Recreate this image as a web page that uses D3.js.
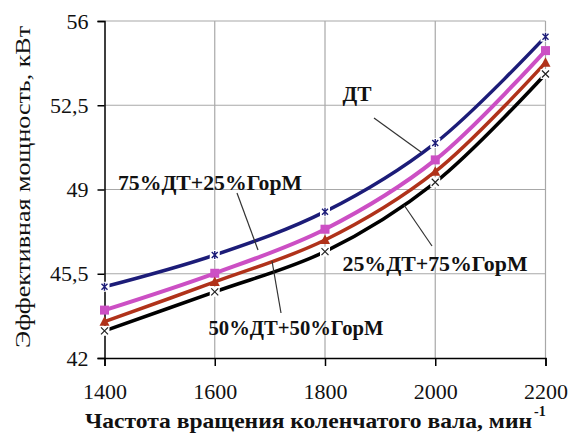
<!DOCTYPE html>
<html><head><meta charset="utf-8"><script src="https://d3js.org/d3.v7.min.js"></script></head>
<body style="margin:0">
<svg width="569" height="436"></svg>
<script>
// rpm values and tick labels
var rpm = [1400, 1600, 1800, 2000, 2200];
var yTicks = [42, 45.5, 49, 52.5, 56];

// effective power, kW, per fuel mix
var dt   = [44.96, 46.28, 48.08, 50.93, 55.35];
var dt75 = [43.99, 45.52, 47.35, 50.23, 54.77];
var dt50 = [43.51, 45.16, 46.90, 49.74, 54.27];
var dt25 = [43.13, 44.75, 46.42, 49.30, 53.80];

var seriesNames = ['ДТ', '75%ДТ+25%ГорМ', '50%ДТ+50%ГорМ', '25%ДТ+75%ГорМ'];
var seriesValues = [dt, dt75, dt50, dt25];

var colors = ['#1c1c78', '#cc4fc4', '#b0321a', '#000000'];
var markers = ['star', 'square', 'triangle', 'cross'];
var widths = [3.5, 4, 3.5, 3.5];

var serif = 'Liberation Serif';

var svg = d3.select('svg');
var x = d3.scaleLinear().domain([1400, 2200]).range([104.5, 545.5]);
var y = d3.scaleLinear().domain([42, 56]).range([358, 21]);

// grid
svg.append('g').selectAll('line').data(yTicks.slice(1)).enter().append('line')
  .attr('x1', x(1400)).attr('x2', x(2200))
  .attr('y1', function(d) { return y(d); }).attr('y2', function(d) { return y(d); })
  .attr('stroke', '#a8a8a8').attr('stroke-width', 1.2);
svg.append('g').selectAll('line').data(rpm.slice(1)).enter().append('line')
  .attr('x1', function(d) { return x(d); }).attr('x2', function(d) { return x(d); })
  .attr('y1', y(56)).attr('y2', y(42))
  .attr('stroke', '#a8a8a8').attr('stroke-width', 1.2);

// axes
var fmt = function(d) { return String(d).replace('.', ','); };
var yAxis = svg.append('g')
  .attr('transform', 'translate(' + x(1400) + ',0)')
  .call(d3.axisLeft(y).tickValues(yTicks).tickFormat(fmt).tickSize(7).tickPadding(9));
var xAxis = svg.append('g')
  .attr('transform', 'translate(0,' + y(42) + ')')
  .call(d3.axisBottom(x).tickValues(rpm).tickFormat(d3.format('d')).tickSize(8).tickPadding(17));
[yAxis, xAxis].forEach(function(a) {
  a.select('.domain').attr('stroke', '#000').attr('stroke-width', 1.5);
  a.selectAll('.tick line').attr('stroke', '#000').attr('stroke-width', 1.5);
  a.selectAll('text').style('font-family', serif).style('font-size', '22px').attr('fill', '#111');
});

// lines
var line = d3.line()
  .x(function(d, i) { return x(rpm[i]); })
  .y(function(d) { return y(d); })
  .curve(d3.curveCatmullRom);

seriesValues.forEach(function(vals, s) {
  svg.append('path').datum(vals)
    .attr('d', line)
    .attr('fill', 'none')
    .attr('stroke', colors[s])
    .attr('stroke-width', widths[s]);
});

// white halos behind the thin markers
[0, 3].forEach(function(s) {
  svg.append('g').selectAll('rect').data(seriesValues[s]).enter().append('rect')
    .attr('x', function(d, i) { return x(rpm[i]) - 5; })
    .attr('y', function(d) { return y(d) - 5; })
    .attr('width', 10).attr('height', 10)
    .attr('fill', '#fff');
});

// markers
seriesValues.forEach(function(vals, s) {
  var g = svg.append('g');
  vals.forEach(function(v, i) {
    var cx = x(rpm[i]), cy = y(v);
    if (markers[s] == 'square') {
      g.append('rect').attr('x', cx - 4.5).attr('y', cy - 4.5)
        .attr('width', 9).attr('height', 9).attr('fill', colors[s]);
    } else if (markers[s] == 'triangle') {
      g.append('path')
        .attr('d', 'M' + cx + ',' + (cy - 5.5) + 'L' + (cx + 5) + ',' + (cy + 4) + 'L' + (cx - 5) + ',' + (cy + 4) + 'Z')
        .attr('fill', colors[s]);
    } else if (markers[s] == 'cross') {
      g.append('path')
        .attr('d', 'M' + (cx - 3.5) + ',' + (cy - 3.5) + 'L' + (cx + 3.5) + ',' + (cy + 3.5) +
                   'M' + (cx + 3.5) + ',' + (cy - 3.5) + 'L' + (cx - 3.5) + ',' + (cy + 3.5))
        .attr('stroke', '#222').attr('stroke-width', 1.2);
    } else {
      g.append('path')
        .attr('d', 'M' + (cx - 3) + ',' + (cy - 3) + 'L' + (cx + 3) + ',' + (cy + 3) +
                   'M' + (cx + 3) + ',' + (cy - 3) + 'L' + (cx - 3) + ',' + (cy + 3) +
                   'M' + cx + ',' + (cy - 4) + 'L' + cx + ',' + (cy + 4))
        .attr('stroke', colors[s]).attr('stroke-width', 1.4);
    }
  });
});

// series labels with leader lines
var labels = [
  {text: seriesNames[0], x: 357, y: 101, w: 29, l: [[374, 118], [421, 152]]},
  {text: seriesNames[1], x: 210, y: 190, w: 184, l: [[237, 193], [258, 250]]},
  {text: seriesNames[2], x: 296, y: 335, w: 175, l: [[281, 313], [272, 261]]},
  {text: seriesNames[3], x: 435, y: 271, w: 185, l: [[432, 246], [404, 205]]}
];
labels.forEach(function(d) {
  svg.append('line')
    .attr('x1', d.l[0][0]).attr('y1', d.l[0][1])
    .attr('x2', d.l[1][0]).attr('y2', d.l[1][1])
    .attr('stroke', '#333').attr('stroke-width', 1.2);
  svg.append('text')
    .attr('x', d.x).attr('y', d.y)
    .attr('text-anchor', 'middle')
    .style('font-family', serif).style('font-size', '21px').style('font-weight', 'bold')
    .attr('textLength', d.w).attr('lengthAdjust', 'spacingAndGlyphs')
    .attr('fill', '#111')
    .text(d.text);
});

// axis titles
svg.append('text')
  .attr('transform', 'translate(30,187) rotate(-90)')
  .attr('text-anchor', 'middle')
  .style('font-family', serif).style('font-size', '21px')
  .attr('textLength', 322).attr('lengthAdjust', 'spacingAndGlyphs')
  .attr('fill', '#111')
  .text('Эффективная мощность, кВт');

var xt = svg.append('text')
  .attr('x', 85).attr('y', 428)
  .style('font-family', serif).style('font-size', '21px').style('font-weight', 'bold')
  .attr('fill', '#111');
xt.append('tspan').attr('textLength', 447).attr('lengthAdjust', 'spacingAndGlyphs')
  .text('Частота вращения коленчатого вала, мин');
xt.append('tspan').attr('x', 534).attr('y', 416)
  .style('font-size', '14px')
  .text('-1');
</script>
</body></html>
